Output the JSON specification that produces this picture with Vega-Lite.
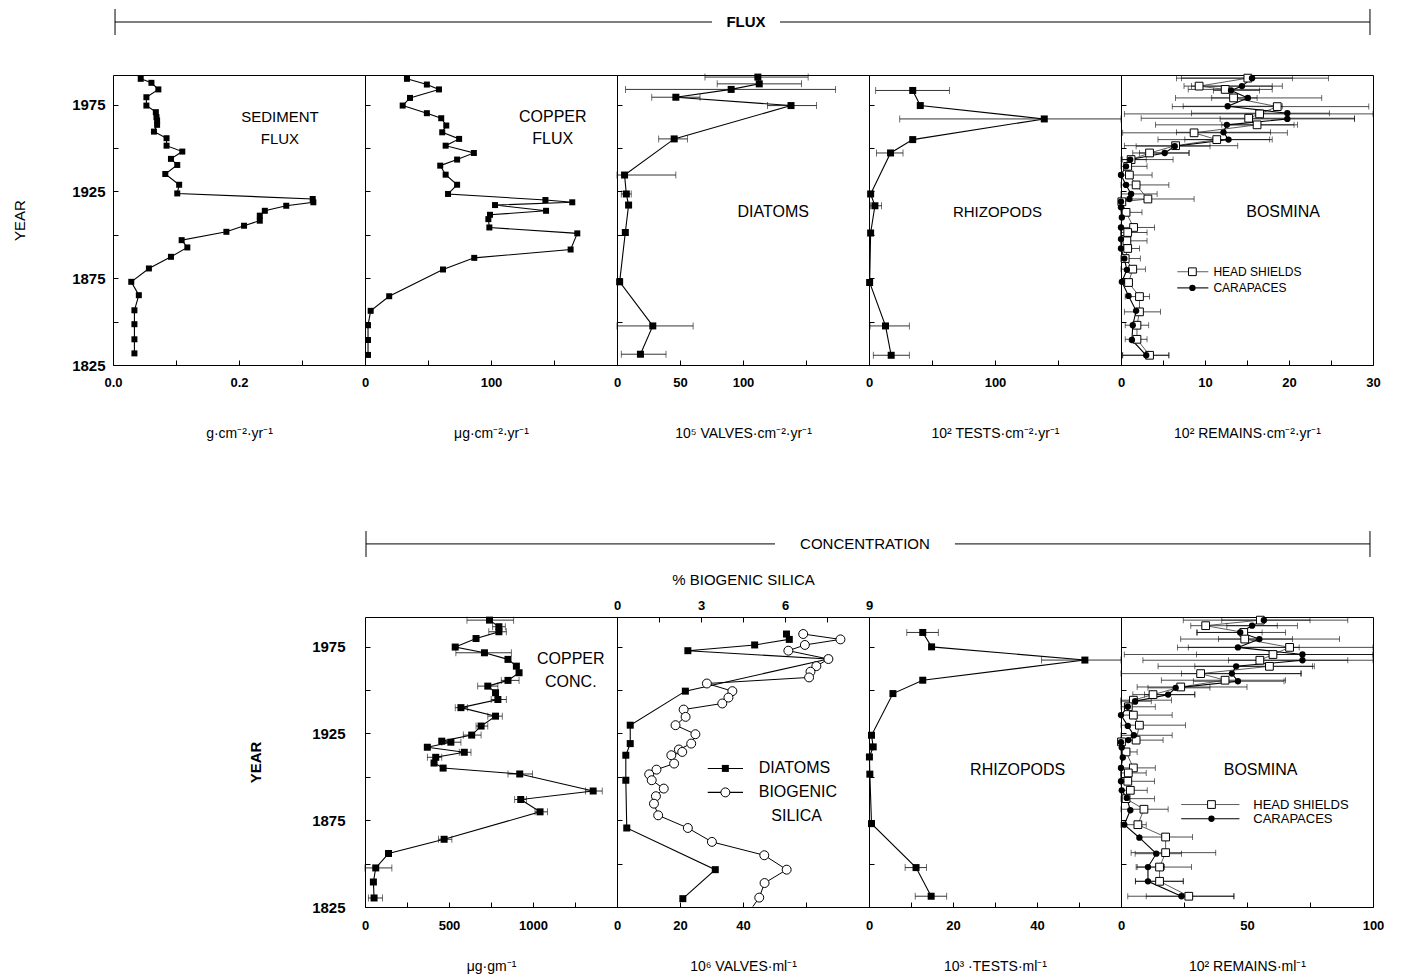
{
"$schema":"https://vega.github.io/schema/vega-lite/v6.json",
"background":"white",
"padding":{"left":12,"top":8,"right":10,"bottom":5},
"autosize":{"type":"pad"},
"datasets":{
"sed":[{"year":1989.8,"v":0.044},{"year":1987.5,"v":0.061},{"year":1983.7,"v":0.072},{"year":1979.2,"v":0.053},{"year":1974.4,"v":0.053},{"year":1970.6,"v":0.068},{"year":1967.7,"v":0.069},{"year":1965.8,"v":0.070},{"year":1963.3,"v":0.070},{"year":1959.4,"v":0.065},{"year":1955.6,"v":0.085},{"year":1951.3,"v":0.085},{"year":1947.9,"v":0.110},{"year":1943.7,"v":0.092},{"year":1940.2,"v":0.102},{"year":1935.0,"v":0.083},{"year":1928.8,"v":0.105},{"year":1923.8,"v":0.102},{"year":1920.6,"v":0.317},{"year":1918.7,"v":0.318},{"year":1916.7,"v":0.275},{"year":1913.8,"v":0.241},{"year":1911.0,"v":0.233},{"year":1908.1,"v":0.233},{"year":1905.2,"v":0.208},{"year":1901.7,"v":0.180},{"year":1896.9,"v":0.109},{"year":1892.7,"v":0.118},{"year":1887.3,"v":0.092},{"year":1880.6,"v":0.057},{"year":1872.9,"v":0.029},{"year":1865.2,"v":0.041},{"year":1856.5,"v":0.034},{"year":1848.5,"v":0.034},{"year":1839.8,"v":0.034},{"year":1831.7,"v":0.034}],
"cuf":[{"year":1989.8,"v":33.3},{"year":1986.5,"v":49.1},{"year":1983.7,"v":58.7},{"year":1978.8,"v":35.7},{"year":1974.4,"v":29.9},{"year":1970.0,"v":49.1},{"year":1967.1,"v":60.5},{"year":1962.9,"v":64.5},{"year":1959.0,"v":61.3},{"year":1955.2,"v":74.7},{"year":1951.3,"v":64.0},{"year":1947.1,"v":86.4},{"year":1943.3,"v":73.1},{"year":1939.8,"v":59.7},{"year":1934.6,"v":64.0},{"year":1928.8,"v":73.1},{"year":1923.5,"v":65.9},{"year":1920.0,"v":143.2},{"year":1918.7,"v":164.5},{"year":1917.1,"v":103.2},{"year":1913.8,"v":143.7},{"year":1911.5,"v":99.2},{"year":1909.0,"v":97.9},{"year":1904.2,"v":98.7},{"year":1900.8,"v":168.5},{"year":1891.5,"v":163.2},{"year":1886.7,"v":86.7},{"year":1880.0,"v":61.9},{"year":1864.6,"v":19.2},{"year":1856.2,"v":4.5},{"year":1847.9,"v":2.4},{"year":1839.4,"v":2.4},{"year":1830.8,"v":2.4}],
"diaf":[{"year":1990.8,"v":111.8,"lo":69.8,"hi":151.7},{"year":1986.9,"v":112.9,"lo":79.5,"hi":146.5},{"year":1983.7,"v":90.6,"lo":6.8,"hi":173.5},{"year":1979.2,"v":46.7,"lo":27.6,"hi":65.9},{"year":1974.4,"v":138.1,"lo":119.4,"hi":158.3},{"year":1955.2,"v":45.4,"lo":33.1,"hi":55.9},{"year":1934.4,"v":6.0,"lo":0,"hi":46.7},{"year":1923.5,"v":7.4,"lo":3.4,"hi":11.3},{"year":1917.1,"v":9.2},{"year":1901.3,"v":6.6,"lo":4.5,"hi":8.5},{"year":1872.9,"v":2.1},{"year":1847.5,"v":28.4,"lo":0,"hi":60.4},{"year":1831.2,"v":18.6,"lo":3.4,"hi":38.9}],
"rhif":[{"year":1983.1,"v":34.7,"lo":5.3,"hi":63.8},{"year":1974.4,"v":40.7},{"year":1966.7,"v":139.1,"lo":24.4,"hi":200},{"year":1954.8,"v":34.7},{"year":1947.1,"v":17.1,"lo":6.0,"hi":27.0},{"year":1923.5,"v":1.3},{"year":1916.7,"v":4.7,"lo":1.3,"hi":10.0},{"year":1901.0,"v":1.3},{"year":1872.5,"v":0.5},{"year":1847.5,"v":13.1,"lo":0.8,"hi":32.0},{"year":1830.6,"v":17.6,"lo":3.4,"hi":32.0}],
"bfh":[{"year":1990.2,"v":15.1,"lo":6.6,"hi":24.7},{"year":1985.6,"v":9.3,"lo":7.5,"hi":19.2},{"year":1983.7,"v":12.4,"lo":8.0,"hi":18.0},{"year":1978.8,"v":13.4,"lo":6.5,"hi":23.9},{"year":1973.8,"v":18.6,"lo":6.1,"hi":29.5},{"year":1969.6,"v":16.5,"lo":0.4,"hi":30},{"year":1967.1,"v":15.2,"lo":2.4,"hi":27.8},{"year":1963.3,"v":16.2,"lo":4.1,"hi":21.0},{"year":1958.7,"v":8.7,"lo":0.2,"hi":19.8},{"year":1954.8,"v":11.4,"lo":4.4,"hi":18.0},{"year":1951.3,"v":6.5,"lo":0.4,"hi":13.9},{"year":1947.1,"v":3.4,"lo":1.4,"hi":8.1},{"year":1943.3,"v":1.2,"lo":0,"hi":6.2},{"year":1939.4,"v":0.8,"lo":0,"hi":3.1},{"year":1934.4,"v":1.0,"lo":0,"hi":3.7},{"year":1928.7,"v":1.8,"lo":0,"hi":5.7},{"year":1920.6,"v":3.2,"lo":0,"hi":8.7},{"year":1919.0,"v":0.1},{"year":1912.9,"v":0.6,"lo":0,"hi":2.5},{"year":1904.2,"v":1.5,"lo":0,"hi":4.0},{"year":1901.3,"v":0.8,"lo":0,"hi":3.1},{"year":1896.5,"v":0.7,"lo":0,"hi":3.1},{"year":1892.1,"v":0.8,"lo":0,"hi":2.2},{"year":1886.3,"v":0.5,"lo":0,"hi":2.3},{"year":1880.2,"v":1.4,"lo":0,"hi":2.9},{"year":1872.5,"v":0.9},{"year":1864.4,"v":2.2,"lo":0.5,"hi":3.4},{"year":1855.6,"v":2.2,"lo":0.4,"hi":4.7},{"year":1847.9,"v":1.9,"lo":0.5,"hi":3.3},{"year":1839.8,"v":1.9,"lo":0.5,"hi":3.1},{"year":1830.6,"v":3.4,"lo":0.2,"hi":5.7}],
"bfc":[{"year":1990.2,"v":15.6,"lo":7.2,"hi":20.4},{"year":1985.6,"v":14.4,"lo":8.4,"hi":18.0},{"year":1983.1,"v":13.1,"lo":11.0,"hi":16.5},{"year":1978.8,"v":15.1,"lo":10.8,"hi":16.2},{"year":1974.0,"v":12.7,"lo":7.4,"hi":19.2},{"year":1970.0,"v":19.8,"lo":8.4,"hi":24.8},{"year":1966.7,"v":19.8,"lo":11.8,"hi":27.8},{"year":1963.3,"v":12.6,"lo":12.0,"hi":20.6},{"year":1959.0,"v":12.2,"lo":6.6,"hi":17.8},{"year":1954.8,"v":12.8,"lo":7.6,"hi":17.7},{"year":1951.0,"v":6.4,"lo":1.8,"hi":10.6},{"year":1947.1,"v":5.2,"lo":2.2,"hi":8.1},{"year":1943.3,"v":1.1,"lo":0.2,"hi":3.0},{"year":1939.4,"v":0.6},{"year":1934.4,"v":0.0},{"year":1928.7,"v":0.6},{"year":1923.5,"v":1.2,"lo":0,"hi":4.3},{"year":1920.6,"v":1.0},{"year":1919.0,"v":0.0},{"year":1915.8,"v":0.0},{"year":1910.0,"v":0.1},{"year":1904.2,"v":0.0},{"year":1897.5,"v":0.0},{"year":1892.1,"v":0.0},{"year":1886.3,"v":0.4},{"year":1879.8,"v":0.7},{"year":1872.9,"v":0.1},{"year":1864.8,"v":0.9},{"year":1856.2,"v":1.8},{"year":1847.9,"v":1.4},{"year":1839.4,"v":1.3},{"year":1830.6,"v":3.0,"lo":0.2,"hi":5.7}],
"cuc":[{"year":1990.2,"v":741,"lo":607,"hi":885},{"year":1986.4,"v":797,"lo":760,"hi":835},{"year":1983.5,"v":797,"lo":737,"hi":841},{"year":1979.6,"v":661},{"year":1974.7,"v":537},{"year":1971.4,"v":711,"lo":541,"hi":871},{"year":1967.6,"v":851},{"year":1963.7,"v":901},{"year":1959.9,"v":917},{"year":1955.5,"v":851,"lo":811,"hi":917},{"year":1952.2,"v":731,"lo":671,"hi":791},{"year":1948.4,"v":777},{"year":1944.5,"v":791,"lo":751,"hi":841},{"year":1939.8,"v":571,"lo":537,"hi":611},{"year":1934.9,"v":777,"lo":731,"hi":817},{"year":1929.2,"v":691,"lo":661,"hi":731},{"year":1924.0,"v":635,"lo":585,"hi":691},{"year":1920.5,"v":457},{"year":1919.9,"v":511,"lo":457,"hi":571},{"year":1917.0,"v":371},{"year":1914.1,"v":591,"lo":561,"hi":631},{"year":1911.2,"v":421,"lo":371,"hi":457},{"year":1907.9,"v":411},{"year":1905.0,"v":465},{"year":1901.6,"v":921,"lo":851,"hi":997},{"year":1891.8,"v":1358,"lo":1312,"hi":1412},{"year":1886.9,"v":927,"lo":891,"hi":961},{"year":1879.8,"v":1042,"lo":1012,"hi":1086},{"year":1864.0,"v":471,"lo":437,"hi":517},{"year":1855.8,"v":140},{"year":1847.5,"v":64,"lo":0,"hi":160},{"year":1839.4,"v":50},{"year":1830.2,"v":54,"lo":20,"hi":104}],
"diac":[{"year":1982.2,"v":53.8},{"year":1979.1,"v":54.7},{"year":1975.9,"v":43.7},{"year":1972.6,"v":22.5},{"year":1967.8,"v":67.1},{"year":1949.3,"v":21.7},{"year":1929.7,"v":4.2},{"year":1919.1,"v":4.2},{"year":1912.4,"v":2.8},{"year":1898.0,"v":2.8},{"year":1870.5,"v":3.1},{"year":1846.5,"v":31.2},{"year":1829.8,"v":20.9}],
"sil":[{"year":1982.2,"v":6.65},{"year":1979.1,"v":7.98},{"year":1975.9,"v":6.71},{"year":1972.6,"v":6.12},{"year":1967.8,"v":7.55},{"year":1963.7,"v":7.12},{"year":1960.5,"v":6.91},{"year":1957.2,"v":6.86},{"year":1953.7,"v":3.21},{"year":1949.3,"v":4.12},{"year":1945.6,"v":3.98},{"year":1942.2,"v":3.76},{"year":1938.7,"v":2.38},{"year":1934.5,"v":2.45},{"year":1929.7,"v":2.09},{"year":1924.5,"v":2.80},{"year":1919.1,"v":2.65},{"year":1915.7,"v":2.21},{"year":1914.3,"v":2.33},{"year":1912.4,"v":1.94},{"year":1907.6,"v":2.04},{"year":1904.1,"v":1.41},{"year":1901.4,"v":1.15},{"year":1898.0,"v":1.24},{"year":1893.2,"v":1.67},{"year":1888.8,"v":1.39},{"year":1884.5,"v":1.32},{"year":1877.8,"v":1.47},{"year":1870.5,"v":2.53},{"year":1862.5,"v":3.39},{"year":1854.8,"v":5.26},{"year":1846.5,"v":6.06},{"year":1838.8,"v":5.27},{"year":1830.4,"v":5.08},{"year":1825.2,"v":4.85}],
"rhic":[{"year":1983.1,"v":12.8,"lo":9.0,"hi":16.5},{"year":1974.8,"v":14.9},{"year":1967.2,"v":51.4,"lo":41.1,"hi":60},{"year":1955.6,"v":12.8},{"year":1947.9,"v":5.7},{"year":1923.9,"v":0.6},{"year":1917.2,"v":1.0},{"year":1911.4,"v":0.1},{"year":1901.5,"v":0.2},{"year":1873.0,"v":0.6},{"year":1847.7,"v":11.2,"lo":8.6,"hi":13.7},{"year":1831.2,"v":14.8,"lo":11.0,"hi":18.5}],
"bch":[{"year":1990.2,"v":55.3,"lo":24.7,"hi":90},{"year":1987.0,"v":33.6,"lo":27.7,"hi":70},{"year":1983.1,"v":48.7,"lo":30.4,"hi":65.3},{"year":1979.3,"v":49.1,"lo":23.7,"hi":86.7},{"year":1974.5,"v":66.9,"lo":22.4,"hi":100},{"year":1970.4,"v":60.3,"lo":1.3,"hi":100},{"year":1967.1,"v":55.1,"lo":8.7,"hi":90},{"year":1963.6,"v":58.9,"lo":14.7,"hi":76.7},{"year":1959.4,"v":31.6,"lo":0,"hi":71.3},{"year":1955.6,"v":41.3,"lo":16,"hi":65.3},{"year":1951.7,"v":23.7,"lo":6.4,"hi":50},{"year":1947.3,"v":12.7,"lo":4.7,"hi":29.3},{"year":1944.1,"v":4.9,"lo":0,"hi":20},{"year":1940.3,"v":2.9,"lo":0,"hi":13.6},{"year":1935.5,"v":4.9,"lo":0,"hi":20.3},{"year":1929.7,"v":7.3,"lo":0,"hi":25.6},{"year":1921.1,"v":6.0,"lo":0,"hi":16.7},{"year":1920.1,"v":0.2},{"year":1914.3,"v":2.0,"lo":0,"hi":6.4},{"year":1905.1,"v":4.9,"lo":0,"hi":13.6},{"year":1902.2,"v":2.9,"lo":0,"hi":10},{"year":1897.4,"v":2.7,"lo":0,"hi":13.3},{"year":1892.2,"v":3.7,"lo":0,"hi":10.4},{"year":1887.4,"v":2.0,"lo":0,"hi":13.3},{"year":1881.3,"v":9.1,"lo":0,"hi":18.7},{"year":1872.4,"v":6.7,"lo":0,"hi":10},{"year":1865.3,"v":17.7,"lo":7.3,"hi":28.4},{"year":1856.3,"v":17.7,"lo":4.0,"hi":37.6},{"year":1848.0,"v":15.3,"lo":6.0,"hi":28.0},{"year":1839.8,"v":15.3,"lo":5.7,"hi":24.7},{"year":1831.2,"v":26.9,"lo":2.7,"hi":44.9}],
"bcc":[{"year":1990.2,"v":56.7,"lo":40,"hi":75},{"year":1987.0,"v":52.0,"lo":42,"hi":62},{"year":1983.1,"v":47.3,"lo":30,"hi":56},{"year":1979.3,"v":54.9,"lo":38.7,"hi":68},{"year":1974.5,"v":46.4,"lo":26.7,"hi":70.7},{"year":1970.4,"v":72.0,"lo":30,"hi":100},{"year":1967.1,"v":72.0,"lo":42.7,"hi":100},{"year":1963.6,"v":45.7,"lo":29.3,"hi":76},{"year":1959.4,"v":44.0,"lo":24,"hi":71.6},{"year":1955.0,"v":46.4,"lo":28.7,"hi":64.7},{"year":1951.2,"v":21.7,"lo":10.7,"hi":35.3},{"year":1947.3,"v":18.7,"lo":9.3,"hi":29.3},{"year":1943.5,"v":5.6,"lo":0,"hi":12},{"year":1940.3,"v":2.7},{"year":1935.5,"v":0},{"year":1929.3,"v":2.7},{"year":1923.9,"v":5.1,"lo":0,"hi":20.3},{"year":1921.1,"v":2.9},{"year":1919.9,"v":0},{"year":1916.8,"v":0.3},{"year":1911.1,"v":0.7},{"year":1905.1,"v":0},{"year":1897.4,"v":0},{"year":1892.2,"v":0.3},{"year":1887.8,"v":2.3},{"year":1880.7,"v":3.7},{"year":1872.4,"v":1.3},{"year":1864.9,"v":7.3},{"year":1855.7,"v":14.0,"lo":5.6,"hi":24},{"year":1848.0,"v":10.7,"lo":6.4,"hi":17.3},{"year":1839.8,"v":10.7,"lo":5.7,"hi":24.7},{"year":1831.2,"v":24.0,"lo":10,"hi":44.7}]
},
"columns":5,
"spacing":0,
"bounds":"flush",
"concat":[
{"width":252,"height":66,"view":{"stroke":null},"data":{"values":[{}]},"layer":[
 {"mark":{"type":"rule","color":"black"},"encoding":{"x":{"datum":0.008,"type":"quantitative","scale":{"domain":[0,1],"nice":false,"zero":false},"axis":null},"x2":{"datum":1},"y":{"datum":0.803,"type":"quantitative","scale":{"domain":[0,1],"nice":false,"zero":false},"axis":null}}},
 {"mark":{"type":"rule","color":"black"},"encoding":{"x":{"datum":0.008,"type":"quantitative","scale":{"domain":[0,1],"nice":false,"zero":false},"axis":null},"y":{"datum":0.606,"type":"quantitative","scale":{"domain":[0,1],"nice":false,"zero":false},"axis":null},"y2":{"datum":1}}}
]},
{"width":252,"height":66,"view":{"stroke":null},"data":{"values":[{}]},"layer":[
 {"mark":{"type":"rule","color":"black"},"encoding":{"x":{"datum":0,"type":"quantitative","scale":{"domain":[0,1],"nice":false,"zero":false},"axis":null},"x2":{"datum":1},"y":{"datum":0.803,"type":"quantitative","scale":{"domain":[0,1],"nice":false,"zero":false},"axis":null}}}
]},
{"width":252,"height":66,"view":{"stroke":null},"data":{"values":[{}]},"layer":[
 {"mark":{"type":"rule","color":"black"},"encoding":{"x":{"datum":0,"type":"quantitative","scale":{"domain":[0,1],"nice":false,"zero":false},"axis":null},"x2":{"datum":0.377},"y":{"datum":0.803,"type":"quantitative","scale":{"domain":[0,1],"nice":false,"zero":false},"axis":null}}},
 {"mark":{"type":"rule","color":"black"},"encoding":{"x":{"datum":0.647,"type":"quantitative","scale":{"domain":[0,1],"nice":false,"zero":false},"axis":null},"x2":{"datum":1},"y":{"datum":0.803,"type":"quantitative","scale":{"domain":[0,1],"nice":false,"zero":false},"axis":null}}},
 {"mark":{"type":"text","font":"Liberation Sans","fontSize":15,"fontWeight":"bold","color":"black","align":"center","baseline":"middle"},"encoding":{"x":{"datum":0.512,"type":"quantitative","scale":{"domain":[0,1],"nice":false,"zero":false},"axis":null},"y":{"datum":0.803,"type":"quantitative","scale":{"domain":[0,1],"nice":false,"zero":false},"axis":null},"text":{"value":"FLUX"}}}
]},
{"width":252,"height":66,"view":{"stroke":null},"data":{"values":[{}]},"layer":[
 {"mark":{"type":"rule","color":"black"},"encoding":{"x":{"datum":0,"type":"quantitative","scale":{"domain":[0,1],"nice":false,"zero":false},"axis":null},"x2":{"datum":1},"y":{"datum":0.803,"type":"quantitative","scale":{"domain":[0,1],"nice":false,"zero":false},"axis":null}}}
]},
{"width":252,"height":66,"view":{"stroke":null},"data":{"values":[{}]},"layer":[
 {"mark":{"type":"rule","color":"black"},"encoding":{"x":{"datum":0,"type":"quantitative","scale":{"domain":[0,1],"nice":false,"zero":false},"axis":null},"x2":{"datum":0.988},"y":{"datum":0.803,"type":"quantitative","scale":{"domain":[0,1],"nice":false,"zero":false},"axis":null}}},
 {"mark":{"type":"rule","color":"black"},"encoding":{"x":{"datum":0.988,"type":"quantitative","scale":{"domain":[0,1],"nice":false,"zero":false},"axis":null},"y":{"datum":0.606,"type":"quantitative","scale":{"domain":[0,1],"nice":false,"zero":false},"axis":null},"y2":{"datum":1}}}
]},

{"width":252,"height":290,"layer":[
 {"data":{"name":"sed"},"mark":{"type":"line","color":"black","strokeWidth":1.1},"encoding":{
   "x":{"field":"v","type":"quantitative","scale":{"domain":[0,0.4],"nice":false,"zero":false},"axis":{"values":[0,0.05,0.1,0.15,0.2,0.25,0.3,0.35],"format":".1f","labelExpr":"indexof([0,0.2],datum.value)>=0?datum.label:''","title":"g·cm⁻²·yr⁻¹"}},
   "y":{"field":"year","type":"quantitative","scale":{"domain":[1825,1992],"nice":false,"zero":false},"axis":{"values":[1825,1850,1875,1900,1925,1950,1975],"format":"d","labelExpr":"indexof([1825,1875,1925,1975],datum.value)>=0?datum.label:''","labelFontSize":15,"labelPadding":13,"title":"YEAR","titleFontSize":15,"titlePadding":44}},
   "order":{"field":"year","type":"quantitative"}}},
 {"data":{"name":"sed"},"mark":{"type":"point","shape":"square","filled":true,"color":"black","size":36,"opacity":1},"encoding":{"x":{"field":"v","type":"quantitative","scale":{"domain":[0,0.4],"nice":false,"zero":false}},"y":{"field":"year","type":"quantitative","scale":{"domain":[1825,1992],"nice":false,"zero":false}}}},
 {"data":{"values":[{}]},"mark":{"type":"text","font":"Liberation Sans","fontSize":15,"color":"black","align":"center","baseline":"middle","lineHeight":22},"encoding":{"x":{"datum":0.265,"type":"quantitative","scale":{"domain":[0,0.4],"nice":false,"zero":false}},"y":{"datum":1967.6,"type":"quantitative","scale":{"domain":[1825,1992],"nice":false,"zero":false}},"text":{"value":["SEDIMENT","FLUX"]}}}
]},
{"width":252,"height":290,"layer":[
 {"data":{"name":"cuf"},"mark":{"type":"line","color":"black","strokeWidth":1.1},"encoding":{
   "x":{"field":"v","type":"quantitative","scale":{"domain":[0,200],"nice":false,"zero":false},"axis":{"values":[0,50,100,150],"labelExpr":"indexof([0,100],datum.value)>=0?datum.label:''","title":"μg·cm⁻²·yr⁻¹"}},
   "y":{"field":"year","type":"quantitative","scale":{"domain":[1825,1992],"nice":false,"zero":false},"axis":{"values":[1850,1875,1900,1925,1950,1975],"labels":false,"title":null}},
   "order":{"field":"year","type":"quantitative"}}},
 {"data":{"name":"cuf"},"mark":{"type":"point","shape":"square","filled":true,"color":"black","size":36,"opacity":1},"encoding":{"x":{"field":"v","type":"quantitative","scale":{"domain":[0,200],"nice":false,"zero":false}},"y":{"field":"year","type":"quantitative","scale":{"domain":[1825,1992],"nice":false,"zero":false}}}},
 {"data":{"values":[{}]},"mark":{"type":"text","font":"Liberation Sans","fontSize":16,"color":"black","align":"center","baseline":"middle","lineHeight":22},"encoding":{"x":{"datum":149,"type":"quantitative","scale":{"domain":[0,200],"nice":false,"zero":false}},"y":{"datum":1967.6,"type":"quantitative","scale":{"domain":[1825,1992],"nice":false,"zero":false}},"text":{"value":["COPPER","FLUX"]}}}
]},
{"width":252,"height":290,"layer":[
 {"data":{"name":"diaf"},"mark":{"type":"rule","color":"black","strokeWidth":0.8},"encoding":{
   "x":{"field":"lo","type":"quantitative","scale":{"domain":[0,200],"nice":false,"zero":false},"axis":{"values":[0,50,100,150],"labelExpr":"indexof([0,50,100],datum.value)>=0?datum.label:''","title":"10⁵   VALVES·cm⁻²·yr⁻¹"}},
   "x2":{"field":"hi"},
   "y":{"field":"year","type":"quantitative","scale":{"domain":[1825,1992],"nice":false,"zero":false},"axis":{"values":[1850,1875,1900,1925,1950,1975],"labels":false,"title":null}}}},
 {"data":{"name":"diaf"},"mark":{"type":"tick","orient":"vertical","color":"black","size":7,"thickness":0.8},"encoding":{"x":{"field":"lo","type":"quantitative","scale":{"domain":[0,200],"nice":false,"zero":false}},"y":{"field":"year","type":"quantitative","scale":{"domain":[1825,1992],"nice":false,"zero":false}}}},
 {"data":{"name":"diaf"},"mark":{"type":"tick","orient":"vertical","color":"black","size":7,"thickness":0.8},"encoding":{"x":{"field":"hi","type":"quantitative","scale":{"domain":[0,200],"nice":false,"zero":false}},"y":{"field":"year","type":"quantitative","scale":{"domain":[1825,1992],"nice":false,"zero":false}}}},
 {"data":{"name":"diaf"},"mark":{"type":"line","color":"black","strokeWidth":1.1},"encoding":{"x":{"field":"v","type":"quantitative","scale":{"domain":[0,200],"nice":false,"zero":false}},"y":{"field":"year","type":"quantitative","scale":{"domain":[1825,1992],"nice":false,"zero":false}},"order":{"field":"year","type":"quantitative"}}},
 {"data":{"name":"diaf"},"mark":{"type":"point","shape":"square","filled":true,"color":"black","size":49,"opacity":1},"encoding":{"x":{"field":"v","type":"quantitative","scale":{"domain":[0,200],"nice":false,"zero":false}},"y":{"field":"year","type":"quantitative","scale":{"domain":[1825,1992],"nice":false,"zero":false}}}},
 {"data":{"values":[{}]},"mark":{"type":"text","font":"Liberation Sans","fontSize":16,"color":"black","align":"center","baseline":"middle"},"encoding":{"x":{"datum":124,"type":"quantitative","scale":{"domain":[0,200],"nice":false,"zero":false}},"y":{"datum":1913,"type":"quantitative","scale":{"domain":[1825,1992],"nice":false,"zero":false}},"text":{"value":"DIATOMS"}}}
]},
{"width":252,"height":290,"layer":[
 {"data":{"name":"rhif"},"mark":{"type":"rule","color":"black","strokeWidth":0.8},"encoding":{
   "x":{"field":"lo","type":"quantitative","scale":{"domain":[0,200],"nice":false,"zero":false},"axis":{"values":[0,50,100,150],"labelExpr":"indexof([0,100],datum.value)>=0?datum.label:''","title":"10²   TESTS·cm⁻²·yr⁻¹"}},
   "x2":{"field":"hi"},
   "y":{"field":"year","type":"quantitative","scale":{"domain":[1825,1992],"nice":false,"zero":false},"axis":{"values":[1850,1875,1900,1925,1950,1975],"labels":false,"title":null}}}},
 {"data":{"name":"rhif"},"mark":{"type":"tick","orient":"vertical","color":"black","size":7,"thickness":0.8},"encoding":{"x":{"field":"lo","type":"quantitative","scale":{"domain":[0,200],"nice":false,"zero":false}},"y":{"field":"year","type":"quantitative","scale":{"domain":[1825,1992],"nice":false,"zero":false}}}},
 {"data":{"name":"rhif"},"mark":{"type":"tick","orient":"vertical","color":"black","size":7,"thickness":0.8},"encoding":{"x":{"field":"hi","type":"quantitative","scale":{"domain":[0,200],"nice":false,"zero":false}},"y":{"field":"year","type":"quantitative","scale":{"domain":[1825,1992],"nice":false,"zero":false}}}},
 {"data":{"name":"rhif"},"mark":{"type":"line","color":"black","strokeWidth":1.1},"encoding":{"x":{"field":"v","type":"quantitative","scale":{"domain":[0,200],"nice":false,"zero":false}},"y":{"field":"year","type":"quantitative","scale":{"domain":[1825,1992],"nice":false,"zero":false}},"order":{"field":"year","type":"quantitative"}}},
 {"data":{"name":"rhif"},"mark":{"type":"point","shape":"square","filled":true,"color":"black","size":49,"opacity":1},"encoding":{"x":{"field":"v","type":"quantitative","scale":{"domain":[0,200],"nice":false,"zero":false}},"y":{"field":"year","type":"quantitative","scale":{"domain":[1825,1992],"nice":false,"zero":false}}}},
 {"data":{"values":[{}]},"mark":{"type":"text","font":"Liberation Sans","fontSize":15,"color":"black","align":"center","baseline":"middle"},"encoding":{"x":{"datum":102,"type":"quantitative","scale":{"domain":[0,200],"nice":false,"zero":false}},"y":{"datum":1913,"type":"quantitative","scale":{"domain":[1825,1992],"nice":false,"zero":false}},"text":{"value":"RHIZOPODS"}}}
]},
{"width":252,"height":290,"layer":[
 {"data":{"name":"bfh"},"mark":{"type":"rule","color":"black","strokeWidth":0.7},"encoding":{
   "x":{"field":"lo","type":"quantitative","scale":{"domain":[0,30],"nice":false,"zero":false},"axis":{"values":[0,5,10,15,20,25,30],"labelExpr":"indexof([0,10,20,30],datum.value)>=0?datum.label:''","title":"10²   REMAINS·cm⁻²·yr⁻¹"}},
   "x2":{"field":"hi"},
   "y":{"field":"year","type":"quantitative","scale":{"domain":[1825,1992],"nice":false,"zero":false},"axis":{"values":[1850,1875,1900,1925,1950,1975],"labels":false,"title":null}}}},
 {"data":{"name":"bfh"},"mark":{"type":"tick","orient":"vertical","color":"black","size":6,"thickness":0.8},"encoding":{"x":{"field":"lo","type":"quantitative","scale":{"domain":[0,30],"nice":false,"zero":false}},"y":{"field":"year","type":"quantitative","scale":{"domain":[1825,1992],"nice":false,"zero":false}}}},
 {"data":{"name":"bfh"},"mark":{"type":"tick","orient":"vertical","color":"black","size":6,"thickness":0.8},"encoding":{"x":{"field":"hi","type":"quantitative","scale":{"domain":[0,30],"nice":false,"zero":false}},"y":{"field":"year","type":"quantitative","scale":{"domain":[1825,1992],"nice":false,"zero":false}}}},
 {"data":{"name":"bfc"},"mark":{"type":"rule","color":"black","strokeWidth":0.7},"encoding":{"x":{"field":"lo","type":"quantitative","scale":{"domain":[0,30],"nice":false,"zero":false}},"x2":{"field":"hi"},"y":{"field":"year","type":"quantitative","scale":{"domain":[1825,1992],"nice":false,"zero":false}}}},
 {"data":{"name":"bfc"},"mark":{"type":"tick","orient":"vertical","color":"black","size":6,"thickness":0.8},"encoding":{"x":{"field":"lo","type":"quantitative","scale":{"domain":[0,30],"nice":false,"zero":false}},"y":{"field":"year","type":"quantitative","scale":{"domain":[1825,1992],"nice":false,"zero":false}}}},
 {"data":{"name":"bfc"},"mark":{"type":"tick","orient":"vertical","color":"black","size":6,"thickness":0.8},"encoding":{"x":{"field":"hi","type":"quantitative","scale":{"domain":[0,30],"nice":false,"zero":false}},"y":{"field":"year","type":"quantitative","scale":{"domain":[1825,1992],"nice":false,"zero":false}}}},
 {"data":{"name":"bfh"},"mark":{"type":"line","color":"#333333","strokeWidth":0.8},"encoding":{"x":{"field":"v","type":"quantitative","scale":{"domain":[0,30],"nice":false,"zero":false}},"y":{"field":"year","type":"quantitative","scale":{"domain":[1825,1992],"nice":false,"zero":false}},"order":{"field":"year","type":"quantitative"}}},
 {"data":{"name":"bfc"},"mark":{"type":"line","color":"black","strokeWidth":1.1},"encoding":{"x":{"field":"v","type":"quantitative","scale":{"domain":[0,30],"nice":false,"zero":false}},"y":{"field":"year","type":"quantitative","scale":{"domain":[1825,1992],"nice":false,"zero":false}},"order":{"field":"year","type":"quantitative"}}},
 {"data":{"name":"bfh"},"mark":{"type":"point","shape":"square","filled":true,"fill":"white","stroke":"black","strokeWidth":1,"size":60,"opacity":1},"encoding":{"x":{"field":"v","type":"quantitative","scale":{"domain":[0,30],"nice":false,"zero":false}},"y":{"field":"year","type":"quantitative","scale":{"domain":[1825,1992],"nice":false,"zero":false}}}},
 {"data":{"name":"bfc"},"mark":{"type":"point","shape":"circle","filled":true,"color":"black","size":40,"opacity":1},"encoding":{"x":{"field":"v","type":"quantitative","scale":{"domain":[0,30],"nice":false,"zero":false}},"y":{"field":"year","type":"quantitative","scale":{"domain":[1825,1992],"nice":false,"zero":false}}}},
 {"data":{"values":[{}]},"mark":{"type":"rule","color":"#333333","strokeWidth":0.8},"encoding":{"x":{"datum":6.7,"type":"quantitative","scale":{"domain":[0,30],"nice":false,"zero":false}},"x2":{"datum":10.4},"y":{"datum":1878.7,"type":"quantitative","scale":{"domain":[1825,1992],"nice":false,"zero":false}}}},
 {"data":{"values":[{}]},"mark":{"type":"rule","color":"black","strokeWidth":1.1},"encoding":{"x":{"datum":6.7,"type":"quantitative","scale":{"domain":[0,30],"nice":false,"zero":false}},"x2":{"datum":10.4},"y":{"datum":1869.4,"type":"quantitative","scale":{"domain":[1825,1992],"nice":false,"zero":false}}}},
 {"data":{"values":[{}]},"mark":{"type":"point","shape":"square","filled":true,"fill":"white","stroke":"black","strokeWidth":1,"size":60,"opacity":1},"encoding":{"x":{"datum":8.5,"type":"quantitative","scale":{"domain":[0,30],"nice":false,"zero":false}},"y":{"datum":1878.7,"type":"quantitative","scale":{"domain":[1825,1992],"nice":false,"zero":false}}}},
 {"data":{"values":[{}]},"mark":{"type":"point","shape":"circle","filled":true,"color":"black","size":40,"opacity":1},"encoding":{"x":{"datum":8.5,"type":"quantitative","scale":{"domain":[0,30],"nice":false,"zero":false}},"y":{"datum":1869.4,"type":"quantitative","scale":{"domain":[1825,1992],"nice":false,"zero":false}}}},
 {"data":{"values":[{}]},"mark":{"type":"text","font":"Liberation Sans","fontSize":12,"color":"black","align":"left","baseline":"middle"},"encoding":{"x":{"datum":11,"type":"quantitative","scale":{"domain":[0,30],"nice":false,"zero":false}},"y":{"datum":1878.7,"type":"quantitative","scale":{"domain":[1825,1992],"nice":false,"zero":false}},"text":{"value":"HEAD SHIELDS"}}},
 {"data":{"values":[{}]},"mark":{"type":"text","font":"Liberation Sans","fontSize":12,"color":"black","align":"left","baseline":"middle"},"encoding":{"x":{"datum":11,"type":"quantitative","scale":{"domain":[0,30],"nice":false,"zero":false}},"y":{"datum":1869.4,"type":"quantitative","scale":{"domain":[1825,1992],"nice":false,"zero":false}},"text":{"value":"CARAPACES"}}},
 {"data":{"values":[{}]},"mark":{"type":"text","font":"Liberation Sans","fontSize":16,"color":"black","align":"center","baseline":"middle"},"encoding":{"x":{"datum":19.3,"type":"quantitative","scale":{"domain":[0,30],"nice":false,"zero":false}},"y":{"datum":1913,"type":"quantitative","scale":{"domain":[1825,1992],"nice":false,"zero":false}},"text":{"value":"BOSMINA"}}}
]},

{"width":252,"height":252,"view":{"stroke":null},"data":{"values":[{}]},"mark":{"type":"point","opacity":0},"encoding":{}},
{"width":252,"height":252,"view":{"stroke":null},"data":{"values":[{}]},"layer":[
 {"mark":{"type":"rule","color":"black"},"encoding":{"x":{"datum":0.004,"type":"quantitative","scale":{"domain":[0,1],"nice":false,"zero":false},"axis":null},"x2":{"datum":1},"y":{"datum":0.29,"type":"quantitative","scale":{"domain":[0,1],"nice":false,"zero":false},"axis":null}}},
 {"mark":{"type":"rule","color":"black"},"encoding":{"x":{"datum":0.004,"type":"quantitative","scale":{"domain":[0,1],"nice":false,"zero":false},"axis":null},"y":{"datum":0.238,"type":"quantitative","scale":{"domain":[0,1],"nice":false,"zero":false},"axis":null},"y2":{"datum":0.341}}}
]},
{"width":252,"height":252,"view":{"stroke":null},"data":{"values":[{}]},"layer":[
 {"mark":{"type":"rule","color":"black"},"encoding":{"x":{"datum":0,"type":"quantitative","scale":{"domain":[0,1],"nice":false,"zero":false},"axis":null},"x2":{"datum":0.627},"y":{"datum":0.29,"type":"quantitative","scale":{"domain":[0,1],"nice":false,"zero":false},"axis":null}}},
 {"mark":{"type":"text","font":"Liberation Sans","fontSize":15,"color":"black","align":"center","baseline":"middle"},"encoding":{"x":{"datum":0.984,"type":"quantitative","scale":{"domain":[0,1],"nice":false,"zero":false},"axis":null},"y":{"datum":0.29,"type":"quantitative","scale":{"domain":[0,1],"nice":false,"zero":false},"axis":null},"text":{"value":"CONCENTRATION"}}}
]},
{"width":252,"height":252,"view":{"stroke":null},"data":{"values":[{}]},"layer":[
 {"mark":{"type":"rule","color":"black"},"encoding":{"x":{"datum":0.341,"type":"quantitative","scale":{"domain":[0,1],"nice":false,"zero":false},"axis":null},"x2":{"datum":1},"y":{"datum":0.29,"type":"quantitative","scale":{"domain":[0,1],"nice":false,"zero":false},"axis":null}}}
]},
{"width":252,"height":252,"view":{"stroke":null},"data":{"values":[{}]},"layer":[
 {"mark":{"type":"rule","color":"black"},"encoding":{"x":{"datum":0,"type":"quantitative","scale":{"domain":[0,1],"nice":false,"zero":false},"axis":null},"x2":{"datum":0.988},"y":{"datum":0.29,"type":"quantitative","scale":{"domain":[0,1],"nice":false,"zero":false},"axis":null}}},
 {"mark":{"type":"rule","color":"black"},"encoding":{"x":{"datum":0.988,"type":"quantitative","scale":{"domain":[0,1],"nice":false,"zero":false},"axis":null},"y":{"datum":0.238,"type":"quantitative","scale":{"domain":[0,1],"nice":false,"zero":false},"axis":null},"y2":{"datum":0.341}}}
]},

{"width":252,"height":290,"view":{"stroke":null},"data":{"values":[{}]},"mark":{"type":"point","opacity":0},"encoding":{}},
{"width":252,"height":290,"layer":[
 {"data":{"name":"cuc"},"mark":{"type":"rule","color":"black","strokeWidth":0.8},"encoding":{
   "x":{"field":"lo","type":"quantitative","scale":{"domain":[0,1500],"nice":false,"zero":false},"axis":{"values":[0,250,500,750,1000,1250],"format":"d","labelExpr":"indexof([0,500,1000],datum.value)>=0?datum.label:''","title":"μg·gm⁻¹","labelPadding":17,"titlePadding":27}},
   "x2":{"field":"hi"},
   "y":{"field":"year","type":"quantitative","scale":{"domain":[1825,1992],"nice":false,"zero":false},"axis":{"values":[1825,1850,1875,1900,1925,1950,1975],"format":"d","labelExpr":"indexof([1825,1875,1925,1975],datum.value)>=0?datum.label:''","labelFontSize":15,"labelPadding":25,"title":"YEAR","titleFontSize":15,"titleFontWeight":"bold","titlePadding":48}}}},
 {"data":{"name":"cuc"},"mark":{"type":"tick","orient":"vertical","color":"black","size":7,"thickness":0.8},"encoding":{"x":{"field":"lo","type":"quantitative","scale":{"domain":[0,1500],"nice":false,"zero":false}},"y":{"field":"year","type":"quantitative","scale":{"domain":[1825,1992],"nice":false,"zero":false}}}},
 {"data":{"name":"cuc"},"mark":{"type":"tick","orient":"vertical","color":"black","size":7,"thickness":0.8},"encoding":{"x":{"field":"hi","type":"quantitative","scale":{"domain":[0,1500],"nice":false,"zero":false}},"y":{"field":"year","type":"quantitative","scale":{"domain":[1825,1992],"nice":false,"zero":false}}}},
 {"data":{"name":"cuc"},"mark":{"type":"line","color":"black","strokeWidth":1.1},"encoding":{"x":{"field":"v","type":"quantitative","scale":{"domain":[0,1500],"nice":false,"zero":false}},"y":{"field":"year","type":"quantitative","scale":{"domain":[1825,1992],"nice":false,"zero":false}},"order":{"field":"year","type":"quantitative"}}},
 {"data":{"name":"cuc"},"mark":{"type":"point","shape":"square","filled":true,"color":"black","size":49,"opacity":1},"encoding":{"x":{"field":"v","type":"quantitative","scale":{"domain":[0,1500],"nice":false,"zero":false}},"y":{"field":"year","type":"quantitative","scale":{"domain":[1825,1992],"nice":false,"zero":false}}}},
 {"data":{"values":[{}]},"mark":{"type":"text","font":"Liberation Sans","fontSize":16,"color":"black","align":"center","baseline":"middle","lineHeight":23},"encoding":{"x":{"datum":1225,"type":"quantitative","scale":{"domain":[0,1500],"nice":false,"zero":false}},"y":{"datum":1967.8,"type":"quantitative","scale":{"domain":[1825,1992],"nice":false,"zero":false}},"text":{"value":["COPPER","CONC."]}}}
]},
{"width":252,"height":290,"layer":[
 {"layer":[
  {"data":{"name":"diac"},"mark":{"type":"line","color":"black","strokeWidth":1.1},"encoding":{
    "x":{"field":"v","type":"quantitative","scale":{"domain":[0,80],"nice":false,"zero":false},"axis":{"orient":"bottom","values":[0,10,20,30,40,50,60,70],"labelExpr":"indexof([0,20,40],datum.value)>=0?datum.label:''","title":"10⁶   VALVES·ml⁻¹","labelPadding":17,"titlePadding":27}},
    "y":{"field":"year","type":"quantitative","scale":{"domain":[1825,1992],"nice":false,"zero":false},"axis":{"values":[1850,1875,1900,1925,1950,1975],"labels":false,"title":null}},
    "order":{"field":"year","type":"quantitative"}}},
  {"data":{"name":"diac"},"mark":{"type":"point","shape":"square","filled":true,"color":"black","size":49,"opacity":1},"encoding":{"x":{"field":"v","type":"quantitative","scale":{"domain":[0,80],"nice":false,"zero":false}},"y":{"field":"year","type":"quantitative","scale":{"domain":[1825,1992],"nice":false,"zero":false}}}},
  {"data":{"values":[{}]},"mark":{"type":"rule","color":"black","strokeWidth":1.1},"encoding":{"x":{"datum":28.8,"type":"quantitative","scale":{"domain":[0,80],"nice":false,"zero":false}},"x2":{"datum":40},"y":{"datum":1904.8,"type":"quantitative","scale":{"domain":[1825,1992],"nice":false,"zero":false}}}},
  {"data":{"values":[{}]},"mark":{"type":"rule","color":"black","strokeWidth":1.1},"encoding":{"x":{"datum":28.8,"type":"quantitative","scale":{"domain":[0,80],"nice":false,"zero":false}},"x2":{"datum":40},"y":{"datum":1891,"type":"quantitative","scale":{"domain":[1825,1992],"nice":false,"zero":false}}}},
  {"data":{"values":[{}]},"mark":{"type":"point","shape":"square","filled":true,"color":"black","size":49,"opacity":1},"encoding":{"x":{"datum":34.4,"type":"quantitative","scale":{"domain":[0,80],"nice":false,"zero":false}},"y":{"datum":1904.8,"type":"quantitative","scale":{"domain":[1825,1992],"nice":false,"zero":false}}}},
  {"data":{"values":[{}]},"mark":{"type":"point","shape":"circle","filled":true,"fill":"white","stroke":"black","strokeWidth":1,"size":80,"opacity":1},"encoding":{"x":{"datum":34.4,"type":"quantitative","scale":{"domain":[0,80],"nice":false,"zero":false}},"y":{"datum":1891,"type":"quantitative","scale":{"domain":[1825,1992],"nice":false,"zero":false}}}},
  {"data":{"values":[{}]},"mark":{"type":"text","font":"Liberation Sans","fontSize":16,"color":"black","align":"left","baseline":"middle"},"encoding":{"x":{"datum":45,"type":"quantitative","scale":{"domain":[0,80],"nice":false,"zero":false}},"y":{"datum":1904.8,"type":"quantitative","scale":{"domain":[1825,1992],"nice":false,"zero":false}},"text":{"value":"DIATOMS"}}},
  {"data":{"values":[{}]},"mark":{"type":"text","font":"Liberation Sans","fontSize":16,"color":"black","align":"left","baseline":"middle"},"encoding":{"x":{"datum":45,"type":"quantitative","scale":{"domain":[0,80],"nice":false,"zero":false}},"y":{"datum":1891,"type":"quantitative","scale":{"domain":[1825,1992],"nice":false,"zero":false}},"text":{"value":"BIOGENIC"}}},
  {"data":{"values":[{}]},"mark":{"type":"text","font":"Liberation Sans","fontSize":16,"color":"black","align":"left","baseline":"middle"},"encoding":{"x":{"datum":49,"type":"quantitative","scale":{"domain":[0,80],"nice":false,"zero":false}},"y":{"datum":1877.2,"type":"quantitative","scale":{"domain":[1825,1992],"nice":false,"zero":false}},"text":{"value":"SILICA"}}}
 ]},
 {"layer":[
  {"data":{"name":"sil"},"mark":{"type":"line","color":"black","strokeWidth":1},"encoding":{
    "x":{"field":"v","type":"quantitative","scale":{"domain":[0,9],"nice":false,"zero":false},"axis":{"orient":"top","values":[0,1.5,3,4.5,6,7.5,9],"labelExpr":"indexof([0,3,6,9],datum.value)>=0?datum.label:''","title":"% BIOGENIC SILICA","titleFontSize":15,"labelPadding":10,"titlePadding":12}},
    "y":{"field":"year","type":"quantitative","scale":{"domain":[1825,1992],"nice":false,"zero":false}},
    "order":{"field":"year","type":"quantitative"}}},
  {"data":{"name":"sil"},"transform":[{"filter":"datum.year > 1827"}],"mark":{"type":"point","shape":"circle","filled":true,"fill":"white","stroke":"black","strokeWidth":1,"size":80,"opacity":1},"encoding":{"x":{"field":"v","type":"quantitative","scale":{"domain":[0,9],"nice":false,"zero":false}},"y":{"field":"year","type":"quantitative","scale":{"domain":[1825,1992],"nice":false,"zero":false}}}}
 ]}
],"resolve":{"scale":{"x":"independent"},"axis":{"x":"independent"}}},
{"width":252,"height":290,"layer":[
 {"data":{"name":"rhic"},"mark":{"type":"rule","color":"black","strokeWidth":0.8},"encoding":{
   "x":{"field":"lo","type":"quantitative","scale":{"domain":[0,60],"nice":false,"zero":false},"axis":{"values":[0,10,20,30,40,50],"labelExpr":"indexof([0,20,40],datum.value)>=0?datum.label:''","title":"10³   ·TESTS·ml⁻¹","labelPadding":17,"titlePadding":27}},
   "x2":{"field":"hi"},
   "y":{"field":"year","type":"quantitative","scale":{"domain":[1825,1992],"nice":false,"zero":false},"axis":{"values":[1850,1875,1900,1925,1950,1975],"labels":false,"title":null}}}},
 {"data":{"name":"rhic"},"mark":{"type":"tick","orient":"vertical","color":"black","size":7,"thickness":0.8},"encoding":{"x":{"field":"lo","type":"quantitative","scale":{"domain":[0,60],"nice":false,"zero":false}},"y":{"field":"year","type":"quantitative","scale":{"domain":[1825,1992],"nice":false,"zero":false}}}},
 {"data":{"name":"rhic"},"mark":{"type":"tick","orient":"vertical","color":"black","size":7,"thickness":0.8},"encoding":{"x":{"field":"hi","type":"quantitative","scale":{"domain":[0,60],"nice":false,"zero":false}},"y":{"field":"year","type":"quantitative","scale":{"domain":[1825,1992],"nice":false,"zero":false}}}},
 {"data":{"name":"rhic"},"mark":{"type":"line","color":"black","strokeWidth":1.1},"encoding":{"x":{"field":"v","type":"quantitative","scale":{"domain":[0,60],"nice":false,"zero":false}},"y":{"field":"year","type":"quantitative","scale":{"domain":[1825,1992],"nice":false,"zero":false}},"order":{"field":"year","type":"quantitative"}}},
 {"data":{"name":"rhic"},"mark":{"type":"point","shape":"square","filled":true,"color":"black","size":49,"opacity":1},"encoding":{"x":{"field":"v","type":"quantitative","scale":{"domain":[0,60],"nice":false,"zero":false}},"y":{"field":"year","type":"quantitative","scale":{"domain":[1825,1992],"nice":false,"zero":false}}}},
 {"data":{"values":[{}]},"mark":{"type":"text","font":"Liberation Sans","fontSize":16,"color":"black","align":"center","baseline":"middle"},"encoding":{"x":{"datum":35.4,"type":"quantitative","scale":{"domain":[0,60],"nice":false,"zero":false}},"y":{"datum":1903.8,"type":"quantitative","scale":{"domain":[1825,1992],"nice":false,"zero":false}},"text":{"value":"RHIZOPODS"}}}
]},
{"width":252,"height":290,"layer":[
 {"data":{"name":"bch"},"mark":{"type":"rule","color":"black","strokeWidth":0.7},"encoding":{
   "x":{"field":"lo","type":"quantitative","scale":{"domain":[0,100],"nice":false,"zero":false},"axis":{"values":[0,25,50,75,100],"labelExpr":"indexof([0,50,100],datum.value)>=0?datum.label:''","title":"10²   REMAINS·ml⁻¹","labelPadding":17,"titlePadding":27}},
   "x2":{"field":"hi"},
   "y":{"field":"year","type":"quantitative","scale":{"domain":[1825,1992],"nice":false,"zero":false},"axis":{"values":[1850,1875,1900,1925,1950,1975],"labels":false,"title":null}}}},
 {"data":{"name":"bch"},"mark":{"type":"tick","orient":"vertical","color":"black","size":6,"thickness":0.8},"encoding":{"x":{"field":"lo","type":"quantitative","scale":{"domain":[0,100],"nice":false,"zero":false}},"y":{"field":"year","type":"quantitative","scale":{"domain":[1825,1992],"nice":false,"zero":false}}}},
 {"data":{"name":"bch"},"mark":{"type":"tick","orient":"vertical","color":"black","size":6,"thickness":0.8},"encoding":{"x":{"field":"hi","type":"quantitative","scale":{"domain":[0,100],"nice":false,"zero":false}},"y":{"field":"year","type":"quantitative","scale":{"domain":[1825,1992],"nice":false,"zero":false}}}},
 {"data":{"name":"bcc"},"mark":{"type":"rule","color":"black","strokeWidth":0.7},"encoding":{"x":{"field":"lo","type":"quantitative","scale":{"domain":[0,100],"nice":false,"zero":false}},"x2":{"field":"hi"},"y":{"field":"year","type":"quantitative","scale":{"domain":[1825,1992],"nice":false,"zero":false}}}},
 {"data":{"name":"bcc"},"mark":{"type":"tick","orient":"vertical","color":"black","size":6,"thickness":0.8},"encoding":{"x":{"field":"lo","type":"quantitative","scale":{"domain":[0,100],"nice":false,"zero":false}},"y":{"field":"year","type":"quantitative","scale":{"domain":[1825,1992],"nice":false,"zero":false}}}},
 {"data":{"name":"bcc"},"mark":{"type":"tick","orient":"vertical","color":"black","size":6,"thickness":0.8},"encoding":{"x":{"field":"hi","type":"quantitative","scale":{"domain":[0,100],"nice":false,"zero":false}},"y":{"field":"year","type":"quantitative","scale":{"domain":[1825,1992],"nice":false,"zero":false}}}},
 {"data":{"name":"bch"},"mark":{"type":"line","color":"#333333","strokeWidth":0.8},"encoding":{"x":{"field":"v","type":"quantitative","scale":{"domain":[0,100],"nice":false,"zero":false}},"y":{"field":"year","type":"quantitative","scale":{"domain":[1825,1992],"nice":false,"zero":false}},"order":{"field":"year","type":"quantitative"}}},
 {"data":{"name":"bcc"},"mark":{"type":"line","color":"black","strokeWidth":1.1},"encoding":{"x":{"field":"v","type":"quantitative","scale":{"domain":[0,100],"nice":false,"zero":false}},"y":{"field":"year","type":"quantitative","scale":{"domain":[1825,1992],"nice":false,"zero":false}},"order":{"field":"year","type":"quantitative"}}},
 {"data":{"name":"bch"},"mark":{"type":"point","shape":"square","filled":true,"fill":"white","stroke":"black","strokeWidth":1,"size":60,"opacity":1},"encoding":{"x":{"field":"v","type":"quantitative","scale":{"domain":[0,100],"nice":false,"zero":false}},"y":{"field":"year","type":"quantitative","scale":{"domain":[1825,1992],"nice":false,"zero":false}}}},
 {"data":{"name":"bcc"},"mark":{"type":"point","shape":"circle","filled":true,"color":"black","size":40,"opacity":1},"encoding":{"x":{"field":"v","type":"quantitative","scale":{"domain":[0,100],"nice":false,"zero":false}},"y":{"field":"year","type":"quantitative","scale":{"domain":[1825,1992],"nice":false,"zero":false}}}},
 {"data":{"values":[{}]},"mark":{"type":"rule","color":"#333333","strokeWidth":0.8},"encoding":{"x":{"datum":23.9,"type":"quantitative","scale":{"domain":[0,100],"nice":false,"zero":false}},"x2":{"datum":47},"y":{"datum":1884,"type":"quantitative","scale":{"domain":[1825,1992],"nice":false,"zero":false}}}},
 {"data":{"values":[{}]},"mark":{"type":"rule","color":"black","strokeWidth":1.1},"encoding":{"x":{"datum":23.9,"type":"quantitative","scale":{"domain":[0,100],"nice":false,"zero":false}},"x2":{"datum":47},"y":{"datum":1875.8,"type":"quantitative","scale":{"domain":[1825,1992],"nice":false,"zero":false}}}},
 {"data":{"values":[{}]},"mark":{"type":"point","shape":"square","filled":true,"fill":"white","stroke":"black","strokeWidth":1,"size":60,"opacity":1},"encoding":{"x":{"datum":35.9,"type":"quantitative","scale":{"domain":[0,100],"nice":false,"zero":false}},"y":{"datum":1884,"type":"quantitative","scale":{"domain":[1825,1992],"nice":false,"zero":false}}}},
 {"data":{"values":[{}]},"mark":{"type":"point","shape":"circle","filled":true,"color":"black","size":40,"opacity":1},"encoding":{"x":{"datum":35.9,"type":"quantitative","scale":{"domain":[0,100],"nice":false,"zero":false}},"y":{"datum":1875.8,"type":"quantitative","scale":{"domain":[1825,1992],"nice":false,"zero":false}}}},
 {"data":{"values":[{}]},"mark":{"type":"text","font":"Liberation Sans","fontSize":13,"color":"black","align":"left","baseline":"middle"},"encoding":{"x":{"datum":52.5,"type":"quantitative","scale":{"domain":[0,100],"nice":false,"zero":false}},"y":{"datum":1884,"type":"quantitative","scale":{"domain":[1825,1992],"nice":false,"zero":false}},"text":{"value":"HEAD SHIELDS"}}},
 {"data":{"values":[{}]},"mark":{"type":"text","font":"Liberation Sans","fontSize":13,"color":"black","align":"left","baseline":"middle"},"encoding":{"x":{"datum":52.5,"type":"quantitative","scale":{"domain":[0,100],"nice":false,"zero":false}},"y":{"datum":1875.8,"type":"quantitative","scale":{"domain":[1825,1992],"nice":false,"zero":false}},"text":{"value":"CARAPACES"}}},
 {"data":{"values":[{}]},"mark":{"type":"text","font":"Liberation Sans","fontSize":16,"color":"black","align":"center","baseline":"middle"},"encoding":{"x":{"datum":55.4,"type":"quantitative","scale":{"domain":[0,100],"nice":false,"zero":false}},"y":{"datum":1903.8,"type":"quantitative","scale":{"domain":[1825,1992],"nice":false,"zero":false}},"text":{"value":"BOSMINA"}}}
]}
],
"config":{
 "view":{"stroke":"black","strokeWidth":1},
 "font":"Liberation Sans",
 "axis":{"domain":false,"grid":false,"tickSize":-5,"tickColor":"black","tickWidth":1,"labelColor":"black","titleColor":"black","labelFont":"Liberation Sans","titleFont":"Liberation Sans","labelFontWeight":"bold","labelFontSize":13,"titleFontWeight":"normal","titleFontSize":14,"labelFlush":false,"labelOverlap":false},
 "axisX":{"labelPadding":16,"titlePadding":37},
 "axisY":{"labelPadding":13}
}
}
